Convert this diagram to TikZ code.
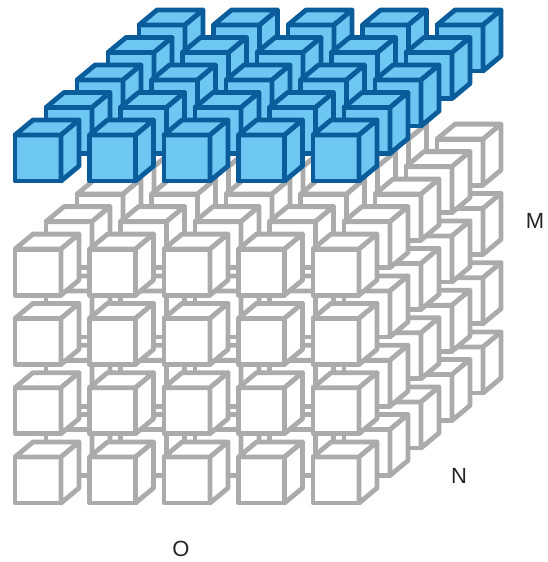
\documentclass[tikz,border=0pt]{standalone}
\usepackage{fontspec}
\setmainfont{Liberation Sans}
\definecolor{blueedge}{HTML}{0B5C9A}
\definecolor{bluefill}{HTML}{6EC6F3}
\definecolor{grayedge}{HTML}{ABABAB}
\tikzset{
  graycube/.style={draw=grayedge, fill=white, line width=4.8pt, line join=round},
  bluecube/.style={draw=blueedge, fill=bluefill, line width=4.8pt, line join=round},
  lbl/.style={font=\fontsize{22}{26}\selectfont, text=black!85}
}
% #1,#2: front-top-left corner, #3: style
\newcommand{\mycube}[3]{%
  \path[#3] (#1,#2) rectangle ++(46,46);
  \path[#3] (#1,#2) -- ++(18,-15) -- ++(46,0) -- ++(-18,15) -- cycle;
  \path[#3] (#1+46,#2) -- ++(18,-15) -- ++(0,46) -- ++(-18,15) -- cycle;
}
\begin{document}
\begin{tikzpicture}[x=1pt,y=-1pt]
\useasboundingbox (0,0) rectangle (547,562);
% gray layers: depth back to front
\foreach \d in {4,3,2,1,0}{
  \foreach \l in {0,1,2,3}{
    \foreach \c in {0,1,2,3,4}{
      \pgfmathsetmacro{\xx}{15+74.5*\c+31*\d}
      \pgfmathsetmacro{\yy}{457-69.3*\l-27.5*\d}
      \mycube{\xx}{\yy}{graycube}
    }
  }
}
% blue top layer
\foreach \d in {4,3,2,1,0}{
  \foreach \c in {0,1,2,3,4}{
    \pgfmathsetmacro{\xx}{15+74.5*\c+31*\d}
    \pgfmathsetmacro{\yy}{135-27.5*\d}
    \mycube{\xx}{\yy}{bluecube}
  }
}
\node[lbl] (M) at (535,221) {M};
\node[lbl] (N) at (459,476) {N};
\node[lbl] (O) at (181,549) {O};
\end{tikzpicture}
\end{document}
